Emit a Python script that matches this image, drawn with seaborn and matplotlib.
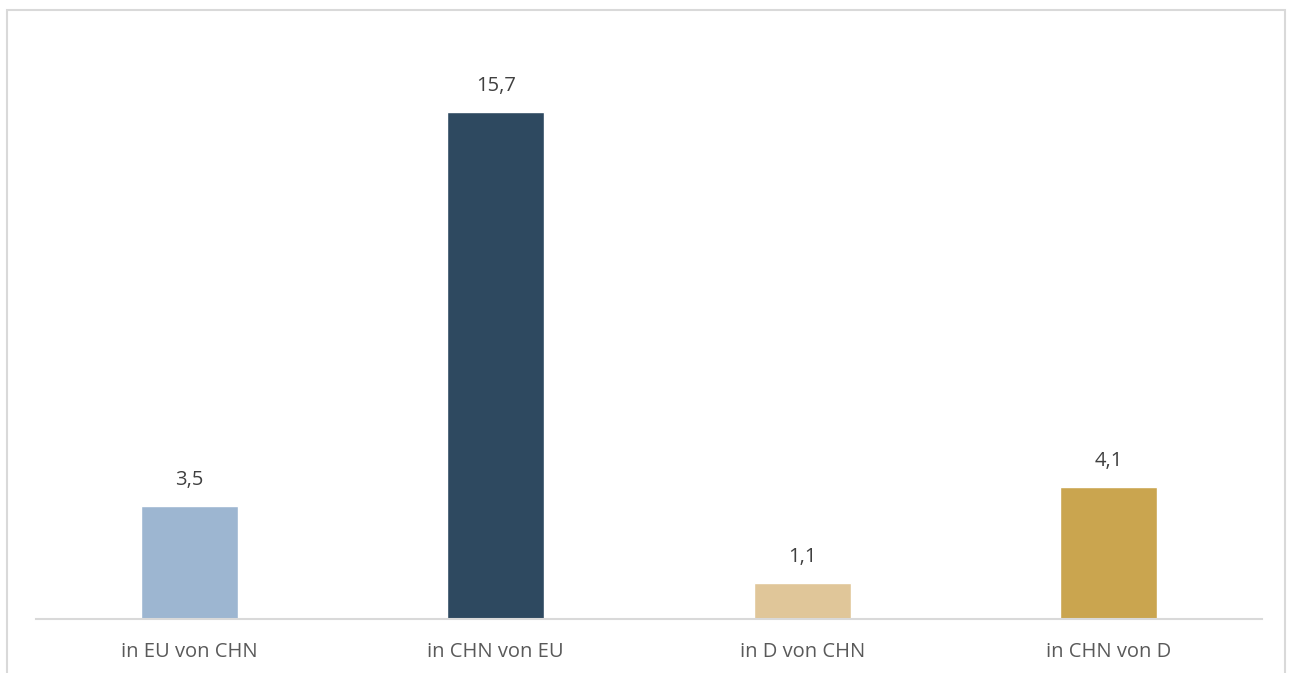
import matplotlib
matplotlib.use("Agg")
import matplotlib.pyplot as plt
from matplotlib.patches import Rectangle
import seaborn as sns
import pandas as pd

categories = ["in EU von CHN", "in CHN von EU", "in D von CHN", "in CHN von D"]
values = [3.5, 15.7, 1.1, 4.1]
colors = ["#9DB6D1", "#2E4960", "#E0C699", "#CAA54F"]

sns.set_theme(style="white")
plt.rcParams['font.family'] = ['Open Sans', 'DejaVu Sans']

W, H = 1292, 673
fig = plt.figure(figsize=(W / 100, H / 100), dpi=100)
ax = fig.add_axes([36 / W, (H - 619) / H, (1262 - 36) / W, (619 - 37.6) / H])

df = pd.DataFrame({"cat": categories, "val": values})
sns.barplot(data=df, x="cat", y="val", hue="cat", palette=colors, width=0.317,
            legend=False, ax=ax, saturation=1)

ax.set_ylim(0, 18)
ax.set_xlim(-0.5, 3.5)
for s in ["top", "left", "right"]:
    ax.spines[s].set_visible(False)
ax.spines["bottom"].set_color("#D9D9D9")
ax.spines["bottom"].set_linewidth(1.5)
ax.set_yticks([])
ax.set_xlabel("")
ax.set_ylabel("")
ax.tick_params(axis="x", length=0, pad=16.5, labelsize=14.5, labelcolor="#595959")

for i, v in enumerate(values):
    ax.annotate(f"{v:.1f}".replace(".", ","), (i, v), xytext=(0, 11.5),
                textcoords="offset points", ha="center", va="bottom",
                fontsize=14.5, color="#404040")

fig.patches.append(Rectangle((6.5 / W, -0.05), (1285 - 6.5) / W, 1.05 - 10.5 / H,
                             transform=fig.transFigure, fill=False,
                             edgecolor="#D9D9D9", linewidth=1.5))

fig.savefig("out.png", dpi=100)
